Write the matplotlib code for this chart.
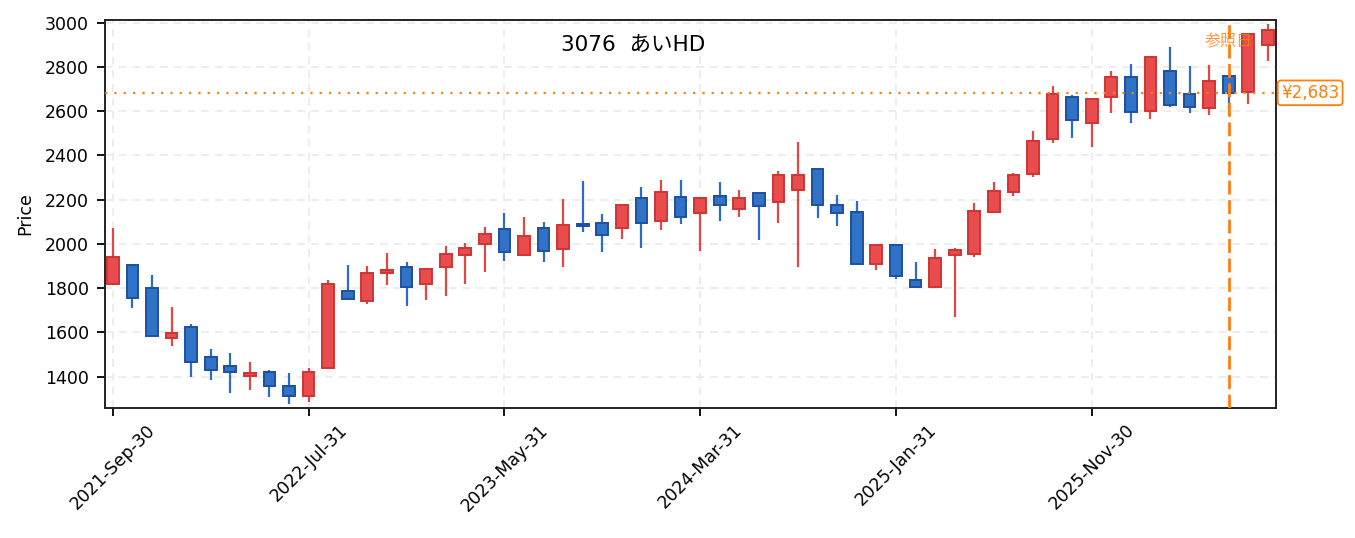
import matplotlib
matplotlib.use("Agg")
import matplotlib.pyplot as plt
import matplotlib.transforms as mtransforms

plt.rcParams['font.family'] = ['DejaVu Sans', 'Noto Sans CJK JP']

# monthly OHLC
opens = [1819, 1903, 1802, 1575, 1626, 1487, 1447, 1403, 1423, 1359,
         1311, 1438, 1786, 1740, 1867, 1897, 1817, 1894, 1950, 1998,
         2066, 1950, 2070, 1976, 2092, 2096, 2072, 2209, 2104, 2214,
         2138, 2218, 2156, 2232, 2188, 2244, 2340, 2177, 2146, 1909,
         1997, 1838, 1804, 1950, 1953, 2146, 2235, 2314, 2473, 2666,
         2545, 2664, 2756, 2599, 2783, 2679, 2614, 2759, 2685, 2899]
highs = [2073, 1909, 1860, 1715, 1638, 1525, 1507, 1466, 1429, 1415,
         1438, 1837, 1905, 1900, 1959, 1918, 1888, 1991, 2004, 2076,
         2140, 2122, 2099, 2203, 2284, 2135, 2177, 2257, 2289, 2289,
         2209, 2280, 2244, 2232, 2330, 2461, 2340, 2221, 2194, 2000,
         1997, 1918, 1977, 1980, 2185, 2280, 2320, 2510, 2714, 2673,
         2656, 2782, 2812, 2846, 2890, 2804, 2809, 2759, 2949, 2992]
lows = [1815, 1710, 1584, 1540, 1400, 1386, 1328, 1341, 1310, 1278,
        1287, 1438, 1750, 1730, 1816, 1721, 1747, 1766, 1820, 1875,
        1924, 1950, 1920, 1897, 2052, 1965, 2024, 1983, 2064, 2092,
        1969, 2105, 2123, 2019, 2096, 1897, 2119, 2082, 1909, 1884,
        1843, 1799, 1804, 1671, 1942, 2141, 2218, 2304, 2458, 2479,
        2438, 2593, 2548, 2566, 2617, 2593, 2584, 2584, 2634, 2828]
closes = [1942, 1754, 1584, 1596, 1466, 1430, 1421, 1418, 1358, 1313,
          1423, 1817, 1750, 1870, 1884, 1804, 1888, 1953, 1980, 2043,
          1962, 2034, 1966, 2087, 2079, 2040, 2177, 2093, 2236, 2122,
          2209, 2176, 2209, 2170, 2313, 2313, 2174, 2140, 1909, 1994,
          1855, 1804, 1938, 1974, 2150, 2241, 2313, 2467, 2679, 2559,
          2656, 2756, 2596, 2846, 2626, 2619, 2738, 2683, 2949, 2968]

tick_pos = [0, 10, 20, 30, 40, 50]
tick_labels = ["2021-Sep-30", "2022-Jul-31", "2023-May-31",
               "2024-Mar-31", "2025-Jan-31", "2025-Nov-30"]

title = "3076  あいHD"
ref_index = 57
ref_price = 2683

up_face, up_edge, up_wick = "#e84c4c", "#d03434", "#e04848"
dn_face, dn_edge, dn_wick = "#2f72c6", "#1d50a2", "#2b6cc8"
orange = "#ff7f0e"

fig = plt.figure(figsize=(13.55, 5.38), dpi=100)
ax = fig.add_axes([0.0775, 0.2422, 0.864, 0.7206])

n = len(opens)
xs = list(range(n))
for i in xs:
    o, h, l, c = opens[i], highs[i], lows[i], closes[i]
    up = c >= o
    ax.vlines(i, l, h, color=up_wick if up else dn_wick, lw=1.6, zorder=2)
    ax.bar(i, max(abs(c - o), 4), bottom=min(o, c), width=0.6,
           color=up_face if up else dn_face,
           edgecolor=up_edge if up else dn_edge, linewidth=1.4, zorder=3)

# reference price / date
ax.axhline(ref_price, color=orange, ls=(0, (1, 3.2)), lw=1.6, zorder=4)
ax.axvline(ref_index, color=orange, ls=(0, (5, 2)), lw=2, zorder=4)
ax.text(ref_index, 0.965, "参照日", transform=mtransforms.blended_transform_factory(ax.transData, ax.transAxes),
        ha="center", va="top", color=orange, alpha=0.8, fontsize=11.5, family="Noto Sans CJK JP")
ax.text(1.0045, ref_price, f"¥{ref_price:,}",
        transform=mtransforms.blended_transform_factory(ax.transAxes, ax.transData),
        ha="left", va="center", color=orange, fontsize=12, clip_on=False,
        bbox=dict(boxstyle="round,pad=0.2", fc="white", ec=orange, lw=1.3))

ax.text(0.451, 0.935, title, transform=ax.transAxes, ha="center", va="center", fontsize=15.5)

ax.set_xlim(-0.4, n - 1 + 0.4)
ax.set_ylim(1260, 3012)
ax.set_yticks(range(1400, 3001, 200))
ax.set_xticks(tick_pos)
ax.set_xticklabels(tick_labels, rotation=45, ha="center")
ax.set_ylabel("Price", fontsize=12.5, labelpad=7.5)
ax.tick_params(labelsize=12.5, length=6, width=1.3)
ax.tick_params(axis="y", pad=5.5)
ax.grid(True, ls=(0, (5, 4)), color="#e8e8e8", lw=1.1, zorder=0)
ax.set_axisbelow(True)
for s in ax.spines.values():
    s.set_linewidth(1.4)
    s.set_color("#222222")

fig.savefig("out.png", dpi=100)
